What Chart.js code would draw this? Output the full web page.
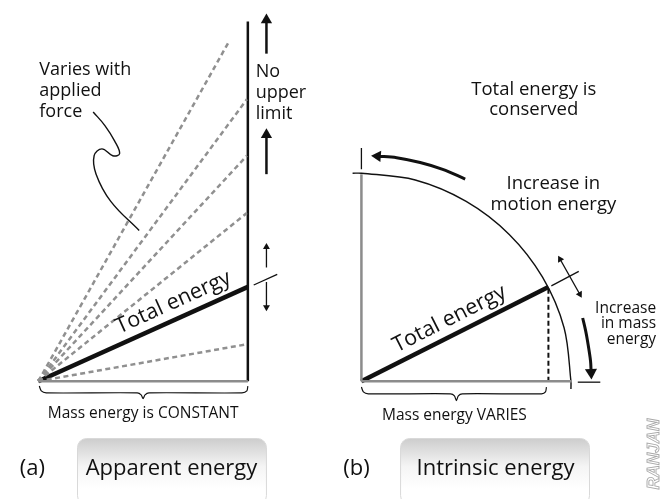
<!DOCTYPE html>
<html><head><meta charset="utf-8">
<script src="https://cdn.jsdelivr.net/npm/chart.js@4"></script>
<style>html,body{margin:0;padding:0;background:#fff;} canvas{display:block}</style>
</head><body>
<canvas id="c" width="668" height="499"></canvas>
<script>
// ---------- geometry (units = pixels, y grows downward) ----------
// Panel (a): apparent energy
const aBase      = [[32,385],[246,385]];
const aWall      = [[246,15],[246,385]];
const aOrigin    = [32,385];
const aForceEnds = [[227,35],[245,95],[245,153],[245,212],[245,347]];
const aTotal     = [[32,385],[246,288]];
const aTick      = [[252,286],[276,275]];
const aLeader    = [[88,108],[100,122],[110,138],[115,151],[108,153],[97,146],[89,153],[91,172],[106,200],[135,230]];
const aBrace     = [[33,390],[35,395],[40,397],[133,397],[137,399],[139,403],[141,399],[145,397],[240,397],[245,395],[246,390]];
const aArrowTop  = [[265,48],[265,7]];
const aArrowMid  = [[265,172],[265,125]];
const aArrowUp   = [[265,268],[265,243]];
const aArrowDown = [[265,283],[265,313]];

// Panel (b): intrinsic energy
const bBase      = [[362,385],[577,385]];
const bWall      = [[362,172],[362,385]];
const bTopTick   = [[362,145],[362,167]];
const bArc       = [[353,171],[362,171],[417,178],[469,200],[513,234],[547,278],[569,330],[576,385],[576,393]];
const bTotal     = [[362,385],[553,288]];
const bDrop      = [[553,290],[553,385]];
const bTick      = [[556,287],[584,272]];
const bFloorTick = [[583,386],[606,386]];
const bBrace     = [[362,391],[364,396],[369,398],[453,398],[457,400],[459,405],[461,400],[465,398],[546,398],[550,396],[551,391]];
const bMotionArrow = [[468,177],[445,167],[422,160],[398,155],[372,153]];
const bMassArrow   = [[588,320],[591,333],[593,344],[596,364],[597,383]];
const bDoubleArrow = [[563,256],[587,299]];

// ---------- texts ----------
const textVaries     = ["Varies with","applied","force"];
const textNoLimit    = ["No","upper","limit"];
const textTotal      = "Total energy";
const textMassConst  = "Mass energy is CONSTANT";
const textConserved  = ["Total energy is","conserved"];
const textMotion     = ["Increase in","motion energy"];
const textMassInc    = ["Increase","in mass","energy"];
const textMassVaries = "Mass energy VARIES";
const captionLetters = ["(a)","(b)"];
const captionTitles  = ["Apparent energy","Intrinsic energy"];
const creditText     = "RANJAN";

// ---------- styling / layout ----------
const FONT = '"Open Sans", "Noto Sans", sans-serif';
const BLACK = '#111111', GREY = '#8c8c8c';

const pts = arr => arr.map(p => ({x:p[0], y:p[1]}));
function line(arr, color, width, extra) {
  return Object.assign({data: pts(arr), showLine: true, borderColor: color, borderWidth: width,
    pointRadius: 0, pointHoverRadius: 0, tension: 0, fill: false, clip: false, borderCapStyle: 'butt'}, extra || {});
}
const datasets = [];
const heads = [];
function arrow(arr, width, r, both, tension) {
  const a = arr.map(p => p.slice());
  function head(tip, prev) {
    const dx = tip[0]-prev[0], dy = tip[1]-prev[1], L = Math.hypot(dx,dy);
    const ux = dx/L, uy = dy/L;
    const c = [tip[0]-ux*r, tip[1]-uy*r];
    heads.push({x:c[0], y:c[1], r:r, rot: Math.atan2(ux, -uy)*180/Math.PI});
    return c;
  }
  const n = a.length;
  a[n-1] = head(arr[n-1], arr[n-2]);
  if (both) a[0] = head(arr[0], arr[1]);
  datasets.push(line(a, BLACK, width, {tension: tension || 0}));
}

// panel (a)
datasets.push(line(aBase, GREY, 2.5));
aForceEnds.forEach(e => datasets.push(line([aOrigin, e], '#909090', 2.5, {borderDash:[5,3.5]})));
datasets.push(line(aWall, BLACK, 2.5));
datasets.push(line(aTotal, BLACK, 4.5));
datasets.push(line(aTick, BLACK, 1.3));
datasets.push(line(aLeader, BLACK, 1.4, {tension:0.4}));
datasets.push(line(aBrace, BLACK, 1.2, {tension:0.25}));
arrow(aArrowTop, 2.5, 6.5, false);
arrow(aArrowMid, 2.5, 6.5, false);
arrow(aArrowUp, 1.3, 4, false);
arrow(aArrowDown, 1.3, 4, false);

// panel (b)
datasets.push(line(bBase, GREY, 2.5));
datasets.push(line(bWall, GREY, 2.5));
datasets.push(line(bTopTick, BLACK, 1.3));
datasets.push(line(bArc, BLACK, 1.4, {tension:0.33}));
datasets.push(line(bTotal, BLACK, 4.5));
datasets.push(line(bDrop, BLACK, 2, {borderDash:[5,3]}));
datasets.push(line(bTick, BLACK, 1.3));
datasets.push(line(bFloorTick, BLACK, 1.3));
datasets.push(line(bBrace, BLACK, 1.2, {tension:0.25}));
arrow(bMotionArrow, 3, 6.5, false, 0.33);
arrow(bMassArrow, 3, 7, false, 0.33);
arrow(bDoubleArrow, 1.3, 4, true);

datasets.push({
  data: heads.map(h => ({x:h.x, y:h.y})), showLine: false, clip: false,
  pointStyle: 'triangle', pointRadius: heads.map(h => h.r), pointHoverRadius: heads.map(h => h.r),
  pointRotation: heads.map(h => h.rot), pointBackgroundColor: BLACK, pointBorderWidth: 0
});

// text layout (position = centre unless align says otherwise)
const labels = [];
textVaries.forEach((t,i) => labels.push({t, x:33, y:65+21.5*i, size:18, align:'left'}));
textNoLimit.forEach((t,i) => labels.push({t, x:254, y:67+21.5*i, size:18, align:'left'}));
labels.push({t:textTotal, x:170, y:304, size:21.5, align:'center', rot:-24.4});
labels.push({t:textMassConst, x:139, y:418, size:15.5, align:'center'});
textConserved.forEach((t,i) => labels.push({t, x:538, y:85+21*i, size:18.5, align:'center'}));
textMotion.forEach((t,i) => labels.push({t, x:558, y:182+21*i, size:18.5, align:'center'}));
textMassInc.forEach((t,i) => labels.push({t, x:663, y:310+16*i, size:15.5, align:'right'}));
labels.push({t:textTotal, x:452, y:321, size:21.5, align:'center', rot:-26.9});
labels.push({t:textMassVaries, x:457, y:420, size:15.5, align:'center'});
labels.push({t:captionLetters[0], x:26, y:475, size:22, align:'center'});
labels.push({t:captionLetters[1], x:357, y:475, size:22, align:'center'});
labels.push({t:captionTitles[0], x:168, y:475, size:22, align:'center'});
labels.push({t:captionTitles[1], x:499, y:475, size:22, align:'center'});

const boxes = [{x0:72, x1:265, y0:444, y1:512}, {x0:402, x1:595, y0:444, y1:512}];

const decor = {
  id: 'decor',
  beforeDatasetsDraw(chart) {
    const {ctx, scales:{x, y}} = chart;
    ctx.save();
    boxes.forEach(b => {
      const X0 = x.getPixelForValue(b.x0), X1 = x.getPixelForValue(b.x1);
      const Y0 = y.getPixelForValue(b.y0), Y1 = y.getPixelForValue(b.y1);
      const g = ctx.createLinearGradient(0, Y0, 0, Y0 + 50);
      g.addColorStop(0, '#cdcdcd');
      g.addColorStop(0.55, '#f4f4f4');
      g.addColorStop(1, '#ffffff');
      ctx.beginPath();
      ctx.roundRect(X0, Y0, X1 - X0, Y1 - Y0, 9);
      ctx.fillStyle = g;
      ctx.fill();
      ctx.strokeStyle = '#d9d9d9';
      ctx.lineWidth = 1;
      ctx.stroke();
    });
    ctx.restore();
  },
  afterDatasetsDraw(chart) {
    const {ctx, scales:{x, y}} = chart;
    ctx.save();
    ctx.fillStyle = BLACK;
    labels.forEach(l => {
      ctx.save();
      ctx.translate(x.getPixelForValue(l.x), y.getPixelForValue(l.y));
      if (l.rot) ctx.rotate(l.rot * Math.PI / 180);
      ctx.font = l.size + 'px ' + FONT;
      ctx.textAlign = l.align;
      ctx.textBaseline = 'middle';
      ctx.fillText(l.t, 0, 0);
      ctx.restore();
    });
    // credit mark
    ctx.save();
    ctx.translate(x.getPixelForValue(661), y.getPixelForValue(460));
    ctx.rotate(-Math.PI / 2);
    ctx.font = 'italic bold 17px "Liberation Sans", sans-serif';
    ctx.textAlign = 'center';
    ctx.textBaseline = 'middle';
    ctx.strokeStyle = '#a8a8a8';
    ctx.lineWidth = 0.9;
    ctx.strokeText(creditText, 0, 0);
    ctx.restore();
    ctx.restore();
  }
};

new Chart(document.getElementById('c'), {
  type: 'scatter',
  data: { datasets },
  options: {
    responsive: false, animation: false, events: [], devicePixelRatio: 1,
    layout: { padding: 0 },
    plugins: { legend: { display: false }, tooltip: { enabled: false }, title: { display: false } },
    scales: {
      x: { type: 'linear', min: 0, max: 668, display: false },
      y: { type: 'linear', min: 0, max: 499, reverse: true, display: false }
    }
  },
  plugins: [decor]
});
</script>
</body></html>
